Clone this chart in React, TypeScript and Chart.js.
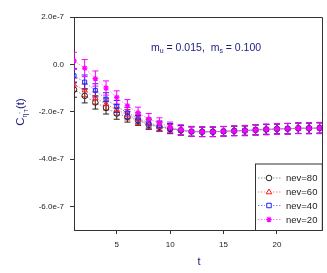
import React, { useEffect, useRef } from "react";
import { Chart, registerables } from "chart.js";

Chart.register(...registerables);

const tValues = [1, 2, 3, 4, 5, 6, 7, 8, 9, 10, 11, 12, 13, 14, 15, 16, 17, 18, 19, 20, 21, 22, 23, 24];

const nev80 = [-1.07e-7, -1.33e-7, -1.61e-7, -1.84e-7, -2.08e-7, -2.22e-7, -2.37e-7, -2.55e-7, -2.64e-7, -2.73e-7, -2.79e-7, -2.84e-7, -2.85e-7, -2.85e-7, -2.83e-7, -2.81e-7, -2.8e-7, -2.77e-7, -2.75e-7, -2.73e-7, -2.72e-7, -2.7e-7, -2.7e-7, -2.69e-7];
const nev60 = [-0.86e-7, -1.1e-7, -1.42e-7, -1.68e-7, -1.92e-7, -2.13e-7, -2.34e-7, -2.53e-7, -2.64e-7, -2.72e-7, -2.79e-7, -2.84e-7, -2.85e-7, -2.85e-7, -2.83e-7, -2.81e-7, -2.8e-7, -2.77e-7, -2.75e-7, -2.73e-7, -2.72e-7, -2.7e-7, -2.7e-7, -2.69e-7];
const nev40 = [-0.48e-7, -0.75e-7, -1.1e-7, -1.47e-7, -1.78e-7, -2.05e-7, -2.27e-7, -2.48e-7, -2.59e-7, -2.7e-7, -2.78e-7, -2.84e-7, -2.85e-7, -2.85e-7, -2.83e-7, -2.81e-7, -2.8e-7, -2.77e-7, -2.75e-7, -2.73e-7, -2.72e-7, -2.7e-7, -2.7e-7, -2.69e-7];
const nev20 = [0.15e-7, -0.16e-7, -0.6e-7, -1.0e-7, -1.4e-7, -1.75e-7, -2.05e-7, -2.31e-7, -2.48e-7, -2.65e-7, -2.76e-7, -2.83e-7, -2.85e-7, -2.85e-7, -2.83e-7, -2.81e-7, -2.8e-7, -2.77e-7, -2.75e-7, -2.73e-7, -2.72e-7, -2.7e-7, -2.7e-7, -2.69e-7];

const err80 = [0.32e-7, 0.3e-7, 0.28e-7, 0.26e-7, 0.24e-7, 0.22e-7, 0.21e-7, 0.2e-7, 0.2e-7, 0.2e-7, 0.2e-7, 0.2e-7, 0.2e-7, 0.2e-7, 0.2e-7, 0.2e-7, 0.2e-7, 0.21e-7, 0.21e-7, 0.21e-7, 0.22e-7, 0.22e-7, 0.22e-7, 0.22e-7];
const err60 = [0.28e-7, 0.27e-7, 0.26e-7, 0.25e-7, 0.23e-7, 0.22e-7, 0.21e-7, 0.2e-7, 0.2e-7, 0.2e-7, 0.2e-7, 0.2e-7, 0.2e-7, 0.2e-7, 0.2e-7, 0.2e-7, 0.2e-7, 0.21e-7, 0.21e-7, 0.21e-7, 0.22e-7, 0.22e-7, 0.22e-7, 0.22e-7];
const err40 = [0.3e-7, 0.3e-7, 0.28e-7, 0.27e-7, 0.25e-7, 0.23e-7, 0.22e-7, 0.21e-7, 0.2e-7, 0.2e-7, 0.2e-7, 0.2e-7, 0.2e-7, 0.2e-7, 0.2e-7, 0.2e-7, 0.2e-7, 0.21e-7, 0.21e-7, 0.21e-7, 0.22e-7, 0.22e-7, 0.22e-7, 0.22e-7];
const err20 = [0.36e-7, 0.36e-7, 0.32e-7, 0.3e-7, 0.28e-7, 0.26e-7, 0.24e-7, 0.23e-7, 0.22e-7, 0.21e-7, 0.21e-7, 0.21e-7, 0.21e-7, 0.21e-7, 0.21e-7, 0.21e-7, 0.22e-7, 0.22e-7, 0.23e-7, 0.23e-7, 0.23e-7, 0.23e-7, 0.24e-7, 0.24e-7];

const seriesLabels = ["nev=80", "nev=60", "nev=40", "nev=20"];
const xTickValues = [5, 10, 15, 20];
const yTickValues = [2e-7, 0, -2e-7, -4e-7, -6e-7];
const yTickLabels = ["2.0e-7", "0.0", "-2.0e-7", "-4.0e-7", "-6.0e-7"];

const NAVY = "#1c1c82";
const FONT = "'Liberation Sans', Arial, sans-serif";

const styles = [
  { color: "#222222", line: "rgba(120,120,120,0.8)", point: "circle", fill: "rgba(0,0,0,0)", radius: 2.8 },
  { color: "#ff1a1a", line: "rgba(255,90,90,0.8)", point: "triangle", fill: "rgba(0,0,0,0)", radius: 3 },
  { color: "#2222ff", line: "rgba(100,100,255,0.8)", point: "rect", fill: "rgba(0,0,0,0)", radius: 2.8 },
  { color: "#ff00ff", line: "rgba(255,90,255,0.8)", point: "star", fill: "#ff00ff", radius: 2.8 },
];

const seriesValues = [nev80, nev60, nev40, nev20];
const seriesErrors = [err80, err60, err40, err20];

function drawMarker(ctx: CanvasRenderingContext2D, kind: string, x: number, y: number, r: number, color: string) {
  ctx.save();
  ctx.strokeStyle = color;
  ctx.fillStyle = color;
  ctx.lineWidth = 1;
  ctx.beginPath();
  if (kind === "circle") {
    ctx.arc(x, y, r, 0, Math.PI * 2);
    ctx.stroke();
  } else if (kind === "triangle") {
    ctx.moveTo(x, y - r);
    ctx.lineTo(x + r * 0.95, y + r * 0.6);
    ctx.lineTo(x - r * 0.95, y + r * 0.6);
    ctx.closePath();
    ctx.stroke();
  } else if (kind === "rect") {
    ctx.rect(x - r * 0.8, y - r * 0.8, r * 1.6, r * 1.6);
    ctx.stroke();
  } else {
    ctx.lineWidth = 1.2;
    for (let k = 0; k < 4; k++) {
      const ang = (k * Math.PI) / 4;
      ctx.moveTo(x - Math.cos(ang) * r, y - Math.sin(ang) * r);
      ctx.lineTo(x + Math.cos(ang) * r, y + Math.sin(ang) * r);
    }
    ctx.stroke();
  }
  ctx.restore();
}

const errorBarPlugin = {
  id: "errorBars",
  beforeDatasetsDraw(chart: any) {
    const ctx = chart.ctx;
    const xs = chart.scales.x;
    const ys = chart.scales.y;
    ctx.save();
    ctx.beginPath();
    ctx.rect(chart.chartArea.left, chart.chartArea.top, chart.chartArea.right - chart.chartArea.left + 2, chart.chartArea.bottom - chart.chartArea.top);
    ctx.clip();
    seriesValues.forEach((vals, si) => {
      ctx.strokeStyle = styles[si].color;
      ctx.lineWidth = 1;
      vals.forEach((v, i) => {
        const e = seriesErrors[si][i];
        const px = xs.getPixelForValue(tValues[i]);
        const top = ys.getPixelForValue(v + e);
        const bot = ys.getPixelForValue(v - e);
        ctx.beginPath();
        ctx.moveTo(px, top);
        ctx.lineTo(px, bot);
        ctx.moveTo(px - 3, top);
        ctx.lineTo(px + 3, top);
        ctx.moveTo(px - 3, bot);
        ctx.lineTo(px + 3, bot);
        ctx.stroke();
      });
    });
    ctx.restore();
  },
};

const decorPlugin = {
  id: "decor",
  afterDraw(chart: any) {
    const ctx = chart.ctx;
    const a = chart.chartArea;
    ctx.save();
    // frame
    ctx.strokeStyle = "#333";
    ctx.lineWidth = 1;
    ctx.beginPath();
    ctx.moveTo(Math.round(a.left) + 0.5, Math.round(a.top) + 0.5);
    ctx.lineTo(Math.round(a.right) + 0.5, Math.round(a.top) + 0.5);
    ctx.moveTo(Math.round(a.right) + 0.5, Math.round(a.top) + 0.5);
    ctx.lineTo(Math.round(a.right) + 0.5, Math.round(a.bottom) + 0.5);
    ctx.stroke();

    // annotation
    ctx.fillStyle = NAVY;
    ctx.textBaseline = "alphabetic";
    ctx.textAlign = "left";
    let x = 151;
    const base = 50.5;
    const parts: [string, number, number][] = [
      ["m", 10.5, 0],
      ["u", 7, 2.5],
      [" = 0.015,  m", 10.5, 0],
      ["s", 7, 2.5],
      [" = 0.100", 10.5, 0],
    ];
    parts.forEach(([s, size, dy]) => {
      ctx.font = `${size}px ${FONT}`;
      ctx.fillText(s, x, base + dy);
      x += ctx.measureText(s).width;
    });

    // y title
    ctx.save();
    ctx.translate(24, 112);
    ctx.rotate(-Math.PI / 2);
    const tparts: [string, number, number][] = [
      ["C", 11.5, 0],
      ["\u03B7", 7, 2.5],
      ["'", 6, -1],
      ["T", 5.5, 4],
      ["(t)", 11.5, 0],
    ];
    let total = 0;
    tparts.forEach(([s, size]) => {
      ctx.font = `${size}px ${FONT}`;
      total += ctx.measureText(s).width;
    });
    let tx = -total / 2;
    tparts.forEach(([s, size, dy]) => {
      ctx.font = `${size}px ${FONT}`;
      ctx.fillText(s, tx, dy);
      tx += ctx.measureText(s).width;
    });
    ctx.restore();

    // x title
    ctx.font = `11px ${FONT}`;
    ctx.textAlign = "center";
    ctx.fillText("t", 199, 265);

    // legend
    const lx = 255;
    const ly = 163.5;
    const lw = a.right - lx;
    const lh = a.bottom - ly;
    ctx.fillStyle = "#fff";
    ctx.fillRect(lx, ly, lw, lh);
    ctx.strokeStyle = "#333";
    ctx.lineWidth = 1;
    ctx.strokeRect(lx + 0.5, ly + 0.5, lw, lh);
    const rows = [178, 192, 205.5, 219.5];
    chart.data.datasets.forEach((ds: any, i: number) => {
      const y = rows[i];
      const st = styles[i];
      ctx.strokeStyle = st.line;
      ctx.lineWidth = 1;
      ctx.setLineDash([1.5, 1.5]);
      ctx.beginPath();
      ctx.moveTo(258, y);
      ctx.lineTo(282, y);
      ctx.stroke();
      ctx.setLineDash([]);
      ctx.fillStyle = "#fff";
      ctx.fillRect(265, y - 3.5, 8, 7);
      drawMarker(ctx, st.point, 269, y, st.radius, st.color);
      ctx.fillStyle = "#222";
      ctx.font = `9.5px ${FONT}`;
      ctx.textAlign = "left";
      ctx.textBaseline = "middle";
      ctx.fillText(ds.label, 286, y + 0.5);
    });
    ctx.restore();
  },
};

export default function App() {
  const ref = useRef<HTMLCanvasElement>(null);
  useEffect(() => {
    if (!ref.current) return;
    const datasets = seriesValues.map((vals, i) => ({
      label: seriesLabels[i],
      data: vals.map((v, j) => ({ x: tValues[j], y: v })),
      borderColor: styles[i].line,
      borderWidth: 1,
      borderDash: [1.5, 1.5],
      pointStyle: styles[i].point,
      pointRadius: styles[i].radius,
      pointBorderColor: styles[i].color,
      pointBackgroundColor: styles[i].fill,
      pointBorderWidth: i === 3 ? 1.2 : 1,
      showLine: true,
      fill: false,
      tension: 0,
      order: 4 - i,
    }));
    const chart = new Chart(ref.current, {
      type: "scatter",
      data: { datasets },
      options: {
        animation: false,
        responsive: false,
        maintainAspectRatio: false,
        layout: { padding: { top: 17, right: 1, left: 0, bottom: 0 } },
        plugins: { legend: { display: false }, tooltip: { enabled: false } },
        scales: {
          x: {
            type: "linear",
            min: 1,
            max: 24.2,
            afterBuildTicks: (axis: any) => {
              axis.ticks = xTickValues.map((v) => ({ value: v }));
            },
            afterFit: (axis: any) => {
              axis.height = 43;
            },
            ticks: {
              color: "#222",
              font: { size: 8, family: FONT },
              padding: 6,
              maxRotation: 0,
              autoSkip: false,
            },
            grid: { display: true, drawOnChartArea: false, drawTicks: true, tickLength: 4, color: "#333" },
            border: { display: true, color: "#333", width: 1 },
          },
          y: {
            type: "linear",
            min: -7e-7,
            max: 2e-7,
            afterBuildTicks: (axis: any) => {
              axis.ticks = yTickValues.map((v) => ({ value: v }));
            },
            afterFit: (axis: any) => {
              axis.width = 74;
            },
            ticks: {
              color: "#222",
              font: { size: 8, family: FONT },
              padding: 6,
              callback: (v: any) => {
                const idx = yTickValues.findIndex((t) => Math.abs(t - Number(v)) < 1e-12);
                return idx >= 0 ? yTickLabels[idx] : "";
              },
            },
            grid: { display: true, drawOnChartArea: false, drawTicks: true, tickLength: 4, color: "#333" },
            border: { display: true, color: "#333", width: 1 },
          },
        },
      } as any,
      plugins: [errorBarPlugin, decorPlugin],
    });
    return () => chart.destroy();
  }, []);
  return (
    <div style={{ position: "fixed", left: 0, top: 0, width: 327, height: 273, background: "#fff" }}>
      <canvas ref={ref} width={327} height={273} style={{ width: 327, height: 273 }} />
    </div>
  );
}
